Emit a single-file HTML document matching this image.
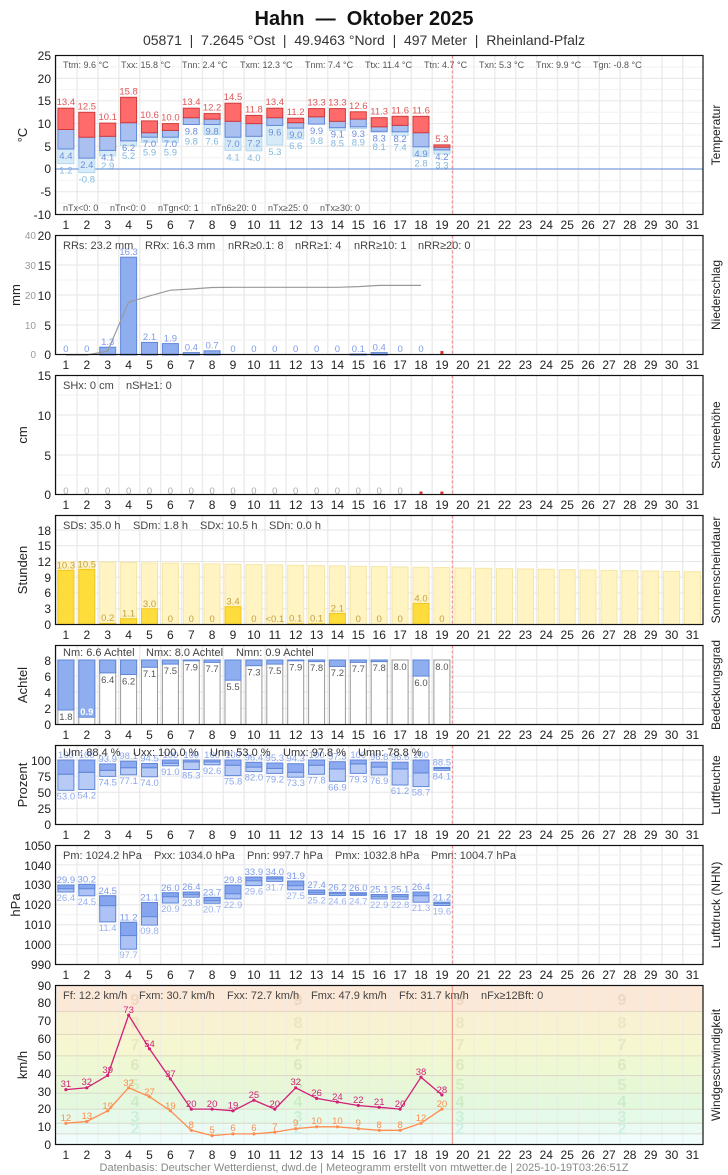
<!DOCTYPE html>
<html><head><meta charset="utf-8"><style>
html,body{margin:0;padding:0;background:#fff}
svg{display:block;font-family:"Liberation Sans",sans-serif}
.t{font-size:12px;fill:#222}
.yl{font-size:12px;fill:#222;text-anchor:end}
.s9{font-size:9px;fill:#555}
.s11{font-size:11px;fill:#444}
.ax{font-size:13px;fill:#222;text-anchor:middle}
.dl{font-size:12px;fill:#222;text-anchor:middle}
.bl{font-size:9.5px;text-anchor:middle}
</style></head><body>
<svg width="728" height="1175" viewBox="0 0 728 1175">
<defs>
<pattern id="vg" x="55.5" y="0" width="20.887" height="10" patternUnits="userSpaceOnUse"><rect x="-1" y="0" width="2.4" height="10" fill="#ebebeb"/></pattern>
</defs>
<text x="364" y="25" text-anchor="middle" style="font-size:20px;font-weight:bold;fill:#111">Hahn&#160;&#160;—&#160;&#160;Oktober 2025</text>
<text x="364" y="45" text-anchor="middle" style="font-size:14px;fill:#333">05871&#160;&#160;|&#160;&#160;7.2645 °Ost&#160;&#160;|&#160;&#160;49.9463 °Nord&#160;&#160;|&#160;&#160;497 Meter&#160;&#160;|&#160;&#160;Rheinland-Pfalz</text>

<g>
<rect x="55.5" y="55.5" width="647.5" height="159" fill="url(#vg)"/>
<rect x="55.5" y="235.5" width="647.5" height="119" fill="url(#vg)"/>
<rect x="55.5" y="375.5" width="647.5" height="119" fill="url(#vg)"/>
<rect x="55.5" y="515.5" width="647.5" height="109" fill="url(#vg)"/>
<rect x="55.5" y="645.5" width="647.5" height="79" fill="url(#vg)"/>
<rect x="55.5" y="745.5" width="647.5" height="79" fill="url(#vg)"/>
<rect x="55.5" y="845.5" width="647.5" height="119" fill="url(#vg)"/>
</g>
<g>
<rect x="55.5" y="985" width="647.5" height="26.6" fill="#fbe8d6"/>
<rect x="55.5" y="1011.6" width="647.5" height="23" fill="#f8f2d2"/>
<rect x="55.5" y="1034.6" width="647.5" height="21.3" fill="#f6f7d0"/>
<rect x="55.5" y="1055.9" width="647.5" height="19.5" fill="#eef8d2"/>
<rect x="55.5" y="1075.4" width="647.5" height="17.7" fill="#e8f8d6"/>
<rect x="55.5" y="1093.1" width="647.5" height="16" fill="#e4f8de"/>
<rect x="55.5" y="1109.1" width="647.5" height="14.1" fill="#e6faea"/>
<rect x="55.5" y="1123.2" width="647.5" height="10.7" fill="#eafbf4"/>
<rect x="55.5" y="1133.9" width="647.5" height="10.6" fill="#f0fdfc"/>
<rect x="55.5" y="985" width="647.5" height="160" fill="url(#vg)" opacity="0.6"/>
<g stroke="#d8d0c0" stroke-width="0.8">
<line x1="55.5" x2="703" y1="1011.6" y2="1011.6"/><line x1="55.5" x2="703" y1="1034.6" y2="1034.6"/><line x1="55.5" x2="703" y1="1055.9" y2="1055.9"/><line x1="55.5" x2="703" y1="1075.4" y2="1075.4"/><line x1="55.5" x2="703" y1="1093.1" y2="1093.1"/><line x1="55.5" x2="703" y1="1109.1" y2="1109.1"/><line x1="55.5" x2="703" y1="1123.2" y2="1123.2"/><line x1="55.5" x2="703" y1="1133.9" y2="1133.9"/>
</g>
<g style="font-size:16px;font-weight:bold" text-anchor="middle">
<g fill="#efd8c0"><text x="135" y="1005">9</text><text x="298" y="1005">9</text><text x="460" y="1005">9</text><text x="622" y="1005">9</text></g>
<g fill="#ece6c0"><text x="135" y="1028">8</text><text x="298" y="1028">8</text><text x="460" y="1028">8</text><text x="622" y="1028">8</text></g>
<g fill="#e6e8c0"><text x="135" y="1050">7</text><text x="298" y="1050">7</text><text x="460" y="1050">7</text><text x="622" y="1050">7</text></g>
<g fill="#dde8c0"><text x="135" y="1070">6</text><text x="298" y="1070">6</text><text x="460" y="1070">6</text><text x="622" y="1070">6</text></g>
<g fill="#d4ecc4"><text x="135" y="1090">5</text><text x="298" y="1090">5</text><text x="460" y="1090">5</text><text x="622" y="1090">5</text></g>
<g fill="#ccecc8"><text x="135" y="1107">4</text><text x="298" y="1107">4</text><text x="460" y="1107">4</text><text x="622" y="1107">4</text></g>
<g fill="#ccefd8"><text x="135" y="1122">3</text><text x="298" y="1122">3</text><text x="460" y="1122">3</text><text x="622" y="1122">3</text></g>
<g fill="#cef0e4"><text x="135" y="1134">2</text><text x="298" y="1134">2</text><text x="460" y="1134">2</text><text x="622" y="1134">2</text></g>
</g>
</g>

<g stroke="#e6e6e6" stroke-width="1">
<line x1="55.5" x2="703" y1="78.2" y2="78.2"/><line x1="55.5" x2="703" y1="100.9" y2="100.9"/><line x1="55.5" x2="703" y1="123.6" y2="123.6"/><line x1="55.5" x2="703" y1="146.3" y2="146.3"/><line x1="55.5" x2="703" y1="191.7" y2="191.7"/>
<line x1="55.5" x2="703" y1="265" y2="265"/><line x1="55.5" x2="703" y1="295" y2="295"/><line x1="55.5" x2="703" y1="325" y2="325"/>
<line x1="55.5" x2="703" y1="415" y2="415"/><line x1="55.5" x2="703" y1="455" y2="455"/>
<line x1="55.5" x2="703" y1="530" y2="530"/><line x1="55.5" x2="703" y1="545.8" y2="545.8"/><line x1="55.5" x2="703" y1="561.5" y2="561.5"/><line x1="55.5" x2="703" y1="577.3" y2="577.3"/><line x1="55.5" x2="703" y1="593" y2="593"/><line x1="55.5" x2="703" y1="608.8" y2="608.8"/>
<line x1="55.5" x2="703" y1="660" y2="660"/><line x1="55.5" x2="703" y1="676.1" y2="676.1"/><line x1="55.5" x2="703" y1="692.3" y2="692.3"/><line x1="55.5" x2="703" y1="708.4" y2="708.4"/>
<line x1="55.5" x2="703" y1="760" y2="760"/><line x1="55.5" x2="703" y1="776.1" y2="776.1"/><line x1="55.5" x2="703" y1="792.3" y2="792.3"/><line x1="55.5" x2="703" y1="808.4" y2="808.4"/>
<line x1="55.5" x2="703" y1="864.9" y2="864.9"/><line x1="55.5" x2="703" y1="884.8" y2="884.8"/><line x1="55.5" x2="703" y1="904.7" y2="904.7"/><line x1="55.5" x2="703" y1="924.7" y2="924.7"/><line x1="55.5" x2="703" y1="944.6" y2="944.6"/>
</g>
<g stroke="#f2f2f2" stroke-width="1">
<line x1="55.5" x2="703" y1="66.9" y2="66.9"/><line x1="55.5" x2="703" y1="89.6" y2="89.6"/><line x1="55.5" x2="703" y1="112.3" y2="112.3"/><line x1="55.5" x2="703" y1="135" y2="135"/><line x1="55.5" x2="703" y1="157.7" y2="157.7"/><line x1="55.5" x2="703" y1="180.4" y2="180.4"/><line x1="55.5" x2="703" y1="203" y2="203"/>
<line x1="55.5" x2="703" y1="250" y2="250"/><line x1="55.5" x2="703" y1="280" y2="280"/><line x1="55.5" x2="703" y1="310" y2="310"/><line x1="55.5" x2="703" y1="340" y2="340"/>
<line x1="55.5" x2="703" y1="395" y2="395"/><line x1="55.5" x2="703" y1="435" y2="435"/><line x1="55.5" x2="703" y1="475" y2="475"/>
<line x1="55.5" x2="703" y1="855" y2="855"/><line x1="55.5" x2="703" y1="874.9" y2="874.9"/><line x1="55.5" x2="703" y1="894.8" y2="894.8"/><line x1="55.5" x2="703" y1="914.7" y2="914.7"/><line x1="55.5" x2="703" y1="934.7" y2="934.7"/><line x1="55.5" x2="703" y1="954.6" y2="954.6"/>
</g>

<line x1="55.5" x2="703" y1="169" y2="169" stroke="#5b86d6" stroke-width="1"/>
<g stroke-width="1">
<g fill="#d6ebf7" stroke="#b4d8ee">
<rect x="57.9" y="149" width="16" height="14.6"/><rect x="78.8" y="158.1" width="16" height="14.5"/><rect x="99.7" y="150.4" width="16" height="5.4"/><rect x="120.6" y="140.9" width="16" height="4.5"/><rect x="141.5" y="137.2" width="16" height="5"/><rect x="162.4" y="137.2" width="16" height="5"/><rect x="204.1" y="124.5" width="16" height="10"/><rect x="225" y="137.2" width="16" height="13.2"/><rect x="245.9" y="136.3" width="16" height="14.5"/><rect x="266.8" y="125.4" width="16" height="19.5"/><rect x="287.7" y="128.1" width="16" height="10.9"/><rect x="329.4" y="127.7" width="16" height="2.7"/><rect x="350.3" y="126.8" width="16" height="1.8"/><rect x="371.2" y="131.3" width="16" height="0.9"/><rect x="392.1" y="131.8" width="16" height="3.6"/><rect x="413" y="146.8" width="16" height="9.5"/><rect x="433.9" y="149.9" width="16" height="4.1"/>
</g>
<g fill="#a9c0f1" stroke="#5f86d8">
<rect x="57.9" y="129.5" width="16" height="19.5"/><rect x="78.8" y="137.2" width="16" height="20.9"/><rect x="99.7" y="136.3" width="16" height="14.1"/><rect x="120.6" y="122.7" width="16" height="18.2"/><rect x="141.5" y="132.7" width="16" height="4.5"/><rect x="162.4" y="130.4" width="16" height="6.8"/><rect x="183.3" y="117.7" width="16" height="6.8"/><rect x="204.1" y="119.1" width="16" height="5.4"/><rect x="225" y="121.3" width="16" height="15.9"/><rect x="245.9" y="123.6" width="16" height="12.7"/><rect x="266.8" y="117.7" width="16" height="7.7"/><rect x="287.7" y="122.7" width="16" height="5.4"/><rect x="308.6" y="116.8" width="16" height="7.3"/><rect x="329.4" y="121.3" width="16" height="6.4"/><rect x="350.3" y="119.1" width="16" height="7.7"/><rect x="371.2" y="126.8" width="16" height="4.5"/><rect x="392.1" y="125.4" width="16" height="6.4"/><rect x="413" y="132.7" width="16" height="14.1"/><rect x="433.9" y="147.2" width="16" height="2.7"/>
</g>
<g fill="#ff6b6b" stroke="#d03a3a">
<rect x="57.9" y="108.2" width="16" height="21.3"/><rect x="78.8" y="112.3" width="16" height="24.9"/><rect x="99.7" y="123.1" width="16" height="13.2"/><rect x="120.6" y="97.3" width="16" height="25.4"/><rect x="141.5" y="120.9" width="16" height="11.8"/><rect x="162.4" y="123.6" width="16" height="6.8"/><rect x="183.3" y="108.2" width="16" height="9.5"/><rect x="204.1" y="113.6" width="16" height="5.5"/><rect x="225" y="103.2" width="16" height="18.1"/><rect x="245.9" y="115.4" width="16" height="8.2"/><rect x="266.8" y="108.2" width="16" height="9.5"/><rect x="287.7" y="118.2" width="16" height="4.5"/><rect x="308.6" y="108.6" width="16" height="8.2"/><rect x="329.4" y="108.6" width="16" height="12.7"/><rect x="350.3" y="111.8" width="16" height="7.3"/><rect x="371.2" y="117.7" width="16" height="9.1"/><rect x="392.1" y="116.3" width="16" height="9.1"/><rect x="413" y="116.3" width="16" height="16.4"/><rect x="433.9" y="144.9" width="16" height="2.3"/>
</g>
</g>
<g class="bl" fill="#e05555">
<text x="65.9" y="105.2">13.4</text><text x="86.8" y="109.3">12.5</text><text x="107.7" y="120.1">10.1</text><text x="128.6" y="94.3">15.8</text><text x="149.5" y="117.9">10.6</text><text x="170.4" y="120.6">10.0</text><text x="191.3" y="105.2">13.4</text><text x="212.1" y="110.6">12.2</text><text x="233" y="100.2">14.5</text><text x="253.9" y="112.4">11.8</text><text x="274.8" y="105.2">13.4</text><text x="295.7" y="115.2">11.2</text><text x="316.6" y="105.6">13.3</text><text x="337.4" y="105.6">13.3</text><text x="358.3" y="108.8">12.6</text><text x="379.2" y="114.7">11.3</text><text x="400.1" y="113.3">11.6</text><text x="421" y="113.3">11.6</text><text x="441.9" y="141.9">5.3</text>
</g>
<g class="bl" fill="#6b8ddb">
<text x="65.9" y="159">4.4</text><text x="86.8" y="168">2.4</text><text x="107.7" y="160.4">4.1</text><text x="128.6" y="150.9">6.2</text><text x="149.5" y="147.2">7.0</text><text x="170.4" y="147.2">7.0</text><text x="191.3" y="134.5">9.8</text><text x="212.1" y="134.5">9.8</text><text x="233" y="147.2">7.0</text><text x="253.9" y="146.3">7.2</text><text x="274.8" y="135.4">9.6</text><text x="295.7" y="138.1">9.0</text><text x="316.6" y="134.1">9.9</text><text x="337.4" y="137.7">9.1</text><text x="358.3" y="136.8">9.3</text><text x="379.2" y="141.3">8.3</text><text x="400.1" y="141.8">8.2</text><text x="421" y="156.8">4.9</text><text x="441.9" y="159.9">4.2</text>
</g>
<g class="bl" fill="#82b8dc">
<text x="65.9" y="173.6">1.2</text><text x="86.8" y="182.6">-0.8</text><text x="107.7" y="169">2.9</text><text x="128.6" y="159">5.2</text><text x="149.5" y="155.5">5.9</text><text x="170.4" y="155.5">5.9</text><text x="191.3" y="144.5">9.8</text><text x="212.1" y="144.5">7.6</text><text x="233" y="160.4">4.1</text><text x="253.9" y="160.8">4.0</text><text x="274.8" y="154.9">5.3</text><text x="295.7" y="149">6.6</text><text x="316.6" y="144">9.8</text><text x="337.4" y="146.5">8.5</text><text x="358.3" y="145.5">8.9</text><text x="379.2" y="150">8.1</text><text x="400.1" y="150.5">7.4</text><text x="421" y="166.3">2.8</text><text x="441.9" y="168.5">3.3</text>
</g>
<g class="s9">
<text x="63" y="68">Ttm: 9.6 °C</text><text x="121" y="68">Txx: 15.8 °C</text><text x="182" y="68">Tnn: 2.4 °C</text><text x="240" y="68">Txm: 12.3 °C</text><text x="305" y="68">Tnm: 7.4 °C</text><text x="365" y="68">Ttx: 11.4 °C</text><text x="424" y="68">Ttn: 4.7 °C</text><text x="479" y="68">Txn: 5.3 °C</text><text x="536" y="68">Tnx: 9.9 °C</text><text x="593" y="68">Tgn: -0.8 °C</text>
<text x="63" y="211">nTx&lt;0: 0</text><text x="110" y="211">nTn&lt;0: 0</text><text x="158" y="211">nTgn&lt;0: 1</text><text x="211" y="211">nTn6≥20: 0</text><text x="268" y="211">nTx≥25: 0</text><text x="320" y="211">nTx≥30: 0</text>
</g>

<g fill="#8eaef0" stroke="#5f86d8">
<rect x="99.7" y="347.2" width="16" height="7.8"/><rect x="120.6" y="257.2" width="16" height="97.8"/><rect x="141.5" y="342.4" width="16" height="12.6"/><rect x="162.4" y="343.6" width="16" height="11.4"/><rect x="183.3" y="352.6" width="16" height="2.4"/><rect x="204.1" y="350.8" width="16" height="4.2"/><rect x="350.3" y="354" width="16" height="1"/><rect x="371.2" y="352.6" width="16" height="2.4"/>
</g>
<polyline fill="none" stroke="#999" stroke-width="1.2" points="65.9,355 86.8,355 107.7,351.1 128.6,302.2 149.5,295.9 170.4,290.2 191.3,289 212.1,287.5 233,287.3 253.9,287.3 274.8,287.3 295.7,287.3 316.6,287.3 337.4,287.3 358.3,286.6 379.2,285.4 400.1,285.4 421,285.4"/>
<g class="bl" fill="#7d9be8">
<text x="65.9" y="352">0</text><text x="86.8" y="352">0</text><text x="107.7" y="345">1.3</text><text x="128.6" y="255">16.3</text><text x="149.5" y="340">2.1</text><text x="170.4" y="341.5">1.9</text><text x="191.3" y="350.5">0.4</text><text x="212.1" y="348.5">0.7</text><text x="233" y="352">0</text><text x="253.9" y="352">0</text><text x="274.8" y="352">0</text><text x="295.7" y="352">0</text><text x="316.6" y="352">0</text><text x="337.4" y="352">0</text><text x="358.3" y="352">0.1</text><text x="379.2" y="350.5">0.4</text><text x="400.1" y="352">0</text><text x="421" y="352">0</text>
</g>
<rect x="440.4" y="351" width="3" height="3" fill="#e03030"/>
<g class="s11">
<text x="63" y="249">RRs: 23.2 mm</text><text x="145" y="249">RRx: 16.3 mm</text><text x="228" y="249">nRR≥0.1: 8</text><text x="295" y="249">nRR≥1: 4</text><text x="354" y="249">nRR≥10: 1</text><text x="418" y="249">nRR≥20: 0</text>
</g>

<g class="bl" fill="#aaa">
<text x="65.9" y="494">0</text><text x="86.8" y="494">0</text><text x="107.7" y="494">0</text><text x="128.6" y="494">0</text><text x="149.5" y="494">0</text><text x="170.4" y="494">0</text><text x="191.3" y="494">0</text><text x="212.1" y="494">0</text><text x="233" y="494">0</text><text x="253.9" y="494">0</text><text x="274.8" y="494">0</text><text x="295.7" y="494">0</text><text x="316.6" y="494">0</text><text x="337.4" y="494">0</text><text x="358.3" y="494">0</text><text x="379.2" y="494">0</text><text x="400.1" y="494">0</text>
</g>
<rect x="419.5" y="491.5" width="3" height="3" fill="#e03030"/><rect x="440.4" y="491.5" width="3" height="3" fill="#e03030"/>
<g class="s11"><text x="63" y="389">SHx: 0 cm</text><text x="126" y="389">nSH≥1: 0</text></g>

<g fill="#fff4c2" stroke="#f6e6a6">
<rect x="57.9" y="561.5" width="16" height="63"/><rect x="78.8" y="561.8" width="16" height="62.7"/><rect x="99.7" y="562.2" width="16" height="62.3"/><rect x="120.6" y="562.5" width="16" height="62"/><rect x="141.5" y="562.9" width="16" height="61.6"/><rect x="162.4" y="563.2" width="16" height="61.3"/><rect x="183.3" y="563.6" width="16" height="60.9"/><rect x="204.1" y="563.9" width="16" height="60.6"/><rect x="225" y="564.2" width="16" height="60.3"/><rect x="245.9" y="564.6" width="16" height="59.9"/><rect x="266.8" y="564.9" width="16" height="59.6"/><rect x="287.7" y="565.3" width="16" height="59.2"/><rect x="308.6" y="565.6" width="16" height="58.9"/><rect x="329.4" y="565.9" width="16" height="58.6"/><rect x="350.3" y="566.3" width="16" height="58.2"/><rect x="371.2" y="566.6" width="16" height="57.9"/><rect x="392.1" y="567" width="16" height="57.5"/><rect x="413" y="567.3" width="16" height="57.2"/><rect x="433.9" y="567.6" width="16" height="56.9"/><rect x="454.8" y="568" width="16" height="56.5"/><rect x="475.6" y="568.3" width="16" height="56.2"/><rect x="496.5" y="568.7" width="16" height="55.8"/><rect x="517.4" y="569" width="16" height="55.5"/><rect x="538.3" y="569.3" width="16" height="55.2"/><rect x="559.2" y="569.7" width="16" height="54.8"/><rect x="580.1" y="570" width="16" height="54.5"/><rect x="601" y="570.4" width="16" height="54.1"/><rect x="621.8" y="570.7" width="16" height="53.8"/><rect x="642.7" y="571" width="16" height="53.5"/><rect x="663.6" y="571.4" width="16" height="53.1"/><rect x="684.5" y="571.7" width="16" height="52.8"/>
</g>
<g fill="#fddc3c" stroke="#f0c820">
<rect x="57.9" y="570.4" width="16" height="54.1"/><rect x="78.8" y="569.4" width="16" height="55.1"/><rect x="99.7" y="623.4" width="16" height="1.1"/><rect x="120.6" y="618.7" width="16" height="5.8"/><rect x="141.5" y="608.8" width="16" height="15.7"/><rect x="225" y="606.7" width="16" height="17.8"/><rect x="287.7" y="623.8" width="16" height="0.7"/><rect x="308.6" y="623.8" width="16" height="0.7"/><rect x="329.4" y="613.5" width="16" height="11"/><rect x="413" y="603.5" width="16" height="21"/>
</g>
<g class="bl" fill="#c4a040">
<text x="65.9" y="568.4">10.3</text><text x="86.8" y="567.4">10.5</text><text x="107.7" y="621">0.2</text><text x="128.6" y="616.7">1.1</text><text x="149.5" y="606.8">3.0</text><text x="170.4" y="622">0</text><text x="191.3" y="622">0</text><text x="212.1" y="622">0</text><text x="233" y="604.7">3.4</text><text x="253.9" y="622">0</text><text x="274.8" y="622">&lt;0.1</text><text x="295.7" y="621.5">0.1</text><text x="316.6" y="621.5">0.1</text><text x="337.4" y="611.5">2.1</text><text x="358.3" y="622">0</text><text x="379.2" y="622">0</text><text x="400.1" y="622">0</text><text x="421" y="601.5">4.0</text><text x="441.9" y="622">0</text>
</g>
<g class="s11"><text x="63" y="529">SDs: 35.0 h</text><text x="133" y="529">SDm: 1.8 h</text><text x="200" y="529">SDx: 10.5 h</text><text x="269" y="529">SDn: 0.0 h</text></g>

<g fill="#fff" stroke="#999">
<rect x="57.9" y="660" width="16" height="64.5"/><rect x="78.8" y="660" width="16" height="64.5"/><rect x="99.7" y="660" width="16" height="64.5"/><rect x="120.6" y="660" width="16" height="64.5"/><rect x="141.5" y="660" width="16" height="64.5"/><rect x="162.4" y="660" width="16" height="64.5"/><rect x="183.3" y="660" width="16" height="64.5"/><rect x="204.1" y="660" width="16" height="64.5"/><rect x="225" y="660" width="16" height="64.5"/><rect x="245.9" y="660" width="16" height="64.5"/><rect x="266.8" y="660" width="16" height="64.5"/><rect x="287.7" y="660" width="16" height="64.5"/><rect x="308.6" y="660" width="16" height="64.5"/><rect x="329.4" y="660" width="16" height="64.5"/><rect x="350.3" y="660" width="16" height="64.5"/><rect x="371.2" y="660" width="16" height="64.5"/><rect x="392.1" y="660" width="16" height="64.5"/><rect x="413" y="660" width="16" height="64.5"/><rect x="433.9" y="660" width="16" height="64.5"/>
</g>
<g fill="#8eaef0" stroke="#5f86d8">
<rect x="57.9" y="660" width="16" height="50"/><rect x="78.8" y="660" width="16" height="57.2"/><rect x="99.7" y="660" width="16" height="12.9"/><rect x="120.6" y="660" width="16" height="14.5"/><rect x="141.5" y="660" width="16" height="7.3"/><rect x="162.4" y="660" width="16" height="4.1"/><rect x="183.3" y="660" width="16" height="0.8"/><rect x="204.1" y="660" width="16" height="2.4"/><rect x="225" y="660" width="16" height="20.2"/><rect x="245.9" y="660" width="16" height="5.7"/><rect x="266.8" y="660" width="16" height="4.1"/><rect x="287.7" y="660" width="16" height="0.8"/><rect x="308.6" y="660" width="16" height="1.6"/><rect x="329.4" y="660" width="16" height="6.5"/><rect x="350.3" y="660" width="16" height="2.4"/><rect x="371.2" y="660" width="16" height="1.6"/><rect x="413" y="660" width="16" height="16.1"/>
</g>
<g class="bl" fill="#555">
<text x="65.9" y="720">1.8</text><text x="107.7" y="683">6.4</text><text x="128.6" y="684.5">6.2</text><text x="149.5" y="677">7.1</text><text x="170.4" y="674">7.5</text><text x="191.3" y="670.5">7.9</text><text x="212.1" y="672">7.7</text><text x="233" y="690">5.5</text><text x="253.9" y="675.5">7.3</text><text x="274.8" y="674">7.5</text><text x="295.7" y="670.5">7.9</text><text x="316.6" y="671">7.8</text><text x="337.4" y="676">7.2</text><text x="358.3" y="672">7.7</text><text x="379.2" y="671">7.8</text><text x="400.1" y="670">8.0</text><text x="421" y="686">6.0</text><text x="441.9" y="670">8.0</text>
</g>
<text x="86.8" y="715" class="bl" fill="#fff" style="font-weight:bold">0.9</text>
<g class="s11"><text x="63" y="656">Nm: 6.6 Achtel</text><text x="146" y="656">Nmx: 8.0 Achtel</text><text x="236" y="656">Nmn: 0.9 Achtel</text></g>

<g stroke="#5f86d8" stroke-width="1">
<g fill="#b8cbf6">
<rect x="57.9" y="774.2" width="16" height="16.1"/><rect x="78.8" y="772.3" width="16" height="17.2"/><rect x="99.7" y="770.3" width="16" height="6.1"/><rect x="120.6" y="767.7" width="16" height="7.1"/><rect x="141.5" y="767.7" width="16" height="9.1"/><rect x="162.4" y="763.2" width="16" height="2.6"/><rect x="183.3" y="761.9" width="16" height="7.6"/><rect x="204.1" y="761.9" width="16" height="2.9"/><rect x="225" y="765.2" width="16" height="10.4"/><rect x="245.9" y="767.1" width="16" height="4.5"/><rect x="266.8" y="768.4" width="16" height="5"/><rect x="287.7" y="772.3" width="16" height="4.9"/><rect x="308.6" y="765.2" width="16" height="9.1"/><rect x="329.4" y="769" width="16" height="12.3"/><rect x="350.3" y="763.9" width="16" height="9.5"/><rect x="371.2" y="767.1" width="16" height="7.8"/><rect x="392.1" y="769" width="16" height="16"/><rect x="413" y="772.9" width="16" height="13.7"/><rect x="433.9" y="768.4" width="16" height="1.9"/>
</g>
<g fill="#8eaaf0">
<rect x="57.9" y="760" width="16" height="14.2"/><rect x="78.8" y="760" width="16" height="12.3"/><rect x="99.7" y="763.9" width="16" height="6.4"/><rect x="120.6" y="761.2" width="16" height="6.5"/><rect x="141.5" y="763.5" width="16" height="4.2"/><rect x="162.4" y="760" width="16" height="3.2"/><rect x="183.3" y="760" width="16" height="1.9"/><rect x="204.1" y="760" width="16" height="1.9"/><rect x="225" y="760" width="16" height="5.2"/><rect x="245.9" y="762.3" width="16" height="4.8"/><rect x="266.8" y="763" width="16" height="5.4"/><rect x="287.7" y="763.7" width="16" height="8.6"/><rect x="308.6" y="760" width="16" height="5.2"/><rect x="329.4" y="761.7" width="16" height="7.3"/><rect x="350.3" y="760" width="16" height="3.9"/><rect x="371.2" y="762.1" width="16" height="5"/><rect x="392.1" y="762.2" width="16" height="6.8"/><rect x="413" y="760" width="16" height="12.9"/><rect x="433.9" y="767.4" width="16" height="1"/>
</g>
</g>
<g class="bl" fill="#8aa6ec">
<text x="65.9" y="758">100</text><text x="86.8" y="758">100</text><text x="107.7" y="762">93.9</text><text x="128.6" y="759">98.1</text><text x="149.5" y="761.5">94.5</text><text x="170.4" y="758">100</text><text x="191.3" y="758">100</text><text x="212.1" y="758">100</text><text x="233" y="758">100</text><text x="253.9" y="760.3">96.4</text><text x="274.8" y="761">95.3</text><text x="295.7" y="761.7">94.3</text><text x="316.6" y="758">100</text><text x="337.4" y="759.7">97.3</text><text x="358.3" y="758">100</text><text x="379.2" y="760">96.8</text><text x="400.1" y="760">96.6</text><text x="421" y="758">100</text><text x="441.9" y="765.4">88.5</text>
<text x="65.9" y="799.3">53.0</text><text x="86.8" y="798.5">54.2</text><text x="107.7" y="785.4">74.5</text><text x="128.6" y="783.8">77.1</text><text x="149.5" y="785.8">74.0</text><text x="170.4" y="774.8">91.0</text><text x="191.3" y="778.5">85.3</text><text x="212.1" y="773.8">92.6</text><text x="233" y="784.6">75.8</text><text x="253.9" y="780.6">82.0</text><text x="274.8" y="782.4">79.2</text><text x="295.7" y="786.2">73.3</text><text x="316.6" y="783.3">77.8</text><text x="337.4" y="790.3">66.9</text><text x="358.3" y="782.4">79.3</text><text x="379.2" y="783.9">76.9</text><text x="400.1" y="794">61.2</text><text x="421" y="795.6">58.7</text><text x="441.9" y="779.3">84.1</text>
</g>
<g class="s11" style="fill:#333"><text x="63" y="756">Um: 88.4 %</text><text x="133" y="756">Uxx: 100.0 %</text><text x="210" y="756">Unn: 53.0 %</text><text x="283" y="756">Umx: 97.8 %</text><text x="358" y="756">Umn: 78.8 %</text></g>

<g stroke="#5f86d8">
<g fill="#aec3f5">
<rect x="57.9" y="885" width="16" height="7"/><rect x="78.8" y="884.4" width="16" height="11.4"/><rect x="99.7" y="895.8" width="16" height="26.1"/><rect x="120.6" y="922.3" width="16" height="26.9"/><rect x="141.5" y="902.5" width="16" height="22.6"/><rect x="162.4" y="892.8" width="16" height="10.2"/><rect x="183.3" y="892" width="16" height="5.2"/><rect x="204.1" y="897.4" width="16" height="5.9"/><rect x="225" y="885.2" width="16" height="13.7"/><rect x="245.9" y="877.1" width="16" height="8.5"/><rect x="266.8" y="876.9" width="16" height="4.5"/><rect x="287.7" y="881" width="16" height="8.8"/><rect x="308.6" y="890" width="16" height="4.4"/><rect x="329.4" y="892.4" width="16" height="3.2"/><rect x="350.3" y="892.8" width="16" height="2.6"/><rect x="371.2" y="894.6" width="16" height="4.4"/><rect x="392.1" y="894.6" width="16" height="4.6"/><rect x="413" y="892" width="16" height="10.2"/><rect x="433.9" y="902.3" width="16" height="3.2"/>
</g>
<g fill="#86a5ef">
<rect x="57.9" y="885" width="16" height="3.8"/><rect x="78.8" y="884.4" width="16" height="4.4"/><rect x="99.7" y="895.8" width="16" height="9.9"/><rect x="120.6" y="922.3" width="16" height="13.3"/><rect x="141.5" y="902.5" width="16" height="14.2"/><rect x="162.4" y="892.8" width="16" height="4"/><rect x="183.3" y="892" width="16" height="2.8"/><rect x="204.1" y="897.4" width="16" height="3.4"/><rect x="225" y="885.2" width="16" height="8.6"/><rect x="245.9" y="877.1" width="16" height="3.7"/><rect x="266.8" y="876.9" width="16" height="2"/><rect x="287.7" y="881" width="16" height="4.8"/><rect x="308.6" y="890" width="16" height="2.8"/><rect x="329.4" y="892.4" width="16" height="1.4"/><rect x="350.3" y="892.8" width="16" height="1.4"/><rect x="371.2" y="894.6" width="16" height="2.2"/><rect x="392.1" y="894.6" width="16" height="2.2"/><rect x="413" y="892" width="16" height="3.8"/><rect x="433.9" y="902.3" width="16" height="1.4"/>
</g>
</g>
<g class="bl" fill="#7d9be8">
<text x="65.9" y="883">29.9</text><text x="86.8" y="882.4">30.2</text><text x="107.7" y="893.8">24.5</text><text x="128.6" y="920.3">11.2</text><text x="149.5" y="900.5">21.1</text><text x="170.4" y="890.8">26.0</text><text x="191.3" y="890">26.4</text><text x="212.1" y="895.4">23.7</text><text x="233" y="883.2">29.8</text><text x="253.9" y="875.1">33.9</text><text x="274.8" y="874.9">34.0</text><text x="295.7" y="879">31.9</text><text x="316.6" y="888">27.4</text><text x="337.4" y="890.4">26.2</text><text x="358.3" y="890.8">26.0</text><text x="379.2" y="892.6">25.1</text><text x="400.1" y="892.6">25.1</text><text x="421" y="890">26.4</text><text x="441.9" y="900.3">21.2</text>
</g>
<g class="bl" fill="#9ab2ec">
<text x="65.9" y="901">26.4</text><text x="86.8" y="904.8">24.5</text><text x="107.7" y="930.9">11.4</text><text x="128.6" y="958.2">97.7</text><text x="149.5" y="934.1">09.8</text><text x="170.4" y="912">20.9</text><text x="191.3" y="906.2">23.8</text><text x="212.1" y="912.3">20.7</text><text x="233" y="907.9">22.9</text><text x="253.9" y="894.6">29.6</text><text x="274.8" y="890.4">31.7</text><text x="295.7" y="898.8">27.5</text><text x="316.6" y="903.4">25.2</text><text x="337.4" y="904.6">24.6</text><text x="358.3" y="904.4">24.7</text><text x="379.2" y="908">22.9</text><text x="400.1" y="908.2">22.8</text><text x="421" y="911.2">21.3</text><text x="441.9" y="914.5">19.6</text>
</g>
<g class="s11"><text x="63" y="859">Pm: 1024.2 hPa</text><text x="154" y="859">Pxx: 1034.0 hPa</text><text x="247" y="859">Pnn: 997.7 hPa</text><text x="335" y="859">Pmx: 1032.8 hPa</text><text x="431" y="859">Pmn: 1004.7 hPa</text></g>

<polyline fill="none" stroke="#d21f79" stroke-width="1.3" points="65.9,1089.6 86.8,1087.8 107.7,1075.4 128.6,1015.1 149.5,1048.8 170.4,1078.9 191.3,1109.1 212.1,1109.1 233,1110.8 253.9,1100.2 274.8,1109.1 295.7,1087.8 316.6,1098.4 337.4,1102 358.3,1105.5 379.2,1107.3 400.1,1109.1 421,1077.2 441.9,1094.9"/>
<polyline fill="none" stroke="#ff8c50" stroke-width="1.3" points="65.9,1123.2 86.8,1121.5 107.7,1110.8 128.6,1087.8 149.5,1096.7 170.4,1110.8 191.3,1130.3 212.1,1135.6 233,1133.9 253.9,1133.9 274.8,1132.1 295.7,1128.6 316.6,1126.8 337.4,1126.8 358.3,1128.6 379.2,1130.3 400.1,1130.3 421,1123.2 441.9,1109.1"/>
<g fill="#d21f79">
<circle cx="65.9" cy="1089.6" r="1.6"/><circle cx="86.8" cy="1087.8" r="1.6"/><circle cx="107.7" cy="1075.4" r="1.6"/><circle cx="128.6" cy="1015.1" r="1.6"/><circle cx="149.5" cy="1048.8" r="1.6"/><circle cx="170.4" cy="1078.9" r="1.6"/><circle cx="191.3" cy="1109.1" r="1.6"/><circle cx="212.1" cy="1109.1" r="1.6"/><circle cx="233" cy="1110.8" r="1.6"/><circle cx="253.9" cy="1100.2" r="1.6"/><circle cx="274.8" cy="1109.1" r="1.6"/><circle cx="295.7" cy="1087.8" r="1.6"/><circle cx="316.6" cy="1098.4" r="1.6"/><circle cx="337.4" cy="1102" r="1.6"/><circle cx="358.3" cy="1105.5" r="1.6"/><circle cx="379.2" cy="1107.3" r="1.6"/><circle cx="400.1" cy="1109.1" r="1.6"/><circle cx="421" cy="1077.2" r="1.6"/><circle cx="441.9" cy="1094.9" r="1.6"/>
</g>
<g fill="#ff8c50">
<circle cx="65.9" cy="1123.2" r="1.6"/><circle cx="86.8" cy="1121.5" r="1.6"/><circle cx="107.7" cy="1110.8" r="1.6"/><circle cx="128.6" cy="1087.8" r="1.6"/><circle cx="149.5" cy="1096.7" r="1.6"/><circle cx="170.4" cy="1110.8" r="1.6"/><circle cx="191.3" cy="1130.3" r="1.6"/><circle cx="212.1" cy="1135.6" r="1.6"/><circle cx="233" cy="1133.9" r="1.6"/><circle cx="253.9" cy="1133.9" r="1.6"/><circle cx="274.8" cy="1132.1" r="1.6"/><circle cx="295.7" cy="1128.6" r="1.6"/><circle cx="316.6" cy="1126.8" r="1.6"/><circle cx="337.4" cy="1126.8" r="1.6"/><circle cx="358.3" cy="1128.6" r="1.6"/><circle cx="379.2" cy="1130.3" r="1.6"/><circle cx="400.1" cy="1130.3" r="1.6"/><circle cx="421" cy="1123.2" r="1.6"/><circle cx="441.9" cy="1109.1" r="1.6"/>
</g>
<g class="bl" fill="#d21f79">
<text x="65.9" y="1087">31</text><text x="86.8" y="1085">32</text><text x="107.7" y="1073">39</text><text x="128.6" y="1013">73</text><text x="149.5" y="1047">54</text><text x="170.4" y="1077">37</text><text x="191.3" y="1107">20</text><text x="212.1" y="1107">20</text><text x="233" y="1108.5">19</text><text x="253.9" y="1098">25</text><text x="274.8" y="1107">20</text><text x="295.7" y="1085">32</text><text x="316.6" y="1096">26</text><text x="337.4" y="1100">24</text><text x="358.3" y="1103">22</text><text x="379.2" y="1105">21</text><text x="400.1" y="1107">20</text><text x="421" y="1075">38</text><text x="441.9" y="1093">28</text>
</g>
<g class="bl" fill="#ff8c50">
<text x="65.9" y="1121">12</text><text x="86.8" y="1119">13</text><text x="107.7" y="1109">19</text><text x="128.6" y="1086">32</text><text x="149.5" y="1095">27</text><text x="170.4" y="1109">19</text><text x="191.3" y="1128">8</text><text x="212.1" y="1133">5</text><text x="233" y="1131">6</text><text x="253.9" y="1131">6</text><text x="274.8" y="1130">7</text><text x="295.7" y="1126">9</text><text x="316.6" y="1124">10</text><text x="337.4" y="1124">10</text><text x="358.3" y="1126">9</text><text x="379.2" y="1128">8</text><text x="400.1" y="1128">8</text><text x="421" y="1121">12</text><text x="441.9" y="1107">20</text>
</g>
<g class="s11"><text x="63" y="999">Ff: 12.2 km/h</text><text x="139" y="999">Fxm: 30.7 km/h</text><text x="227" y="999">Fxx: 72.7 km/h</text><text x="311" y="999">Fmx: 47.9 km/h</text><text x="399" y="999">Ffx: 31.7 km/h</text><text x="481" y="999">nFx≥12Bft: 0</text></g>

<g stroke="#f08080" stroke-width="1" stroke-dasharray="3,2">
<line x1="452.3" x2="452.3" y1="55.5" y2="214.5"/><line x1="452.3" x2="452.3" y1="235.5" y2="354.5"/><line x1="452.3" x2="452.3" y1="375.5" y2="494.5"/><line x1="452.3" x2="452.3" y1="515.5" y2="624.5"/><line x1="452.3" x2="452.3" y1="645.5" y2="724.5"/><line x1="452.3" x2="452.3" y1="745.5" y2="824.5"/><line x1="452.3" x2="452.3" y1="845.5" y2="964.5"/>
</g>
<line x1="452.3" x2="452.3" y1="985" y2="1144.5" stroke="#f09080" stroke-width="1"/>

<g fill="none" stroke="#111" stroke-width="1.2">
<rect x="55.5" y="55.5" width="647.5" height="159"/><rect x="55.5" y="235.5" width="647.5" height="119"/><rect x="55.5" y="375.5" width="647.5" height="119"/><rect x="55.5" y="515.5" width="647.5" height="109"/><rect x="55.5" y="645.5" width="647.5" height="79"/><rect x="55.5" y="745.5" width="647.5" height="79"/><rect x="55.5" y="845.5" width="647.5" height="119"/><rect x="55.5" y="985.5" width="647.5" height="159"/>
</g>

<g class="yl">
<text x="51" y="60">25</text><text x="51" y="83">20</text><text x="51" y="105">15</text><text x="51" y="128">10</text><text x="51" y="151">5</text><text x="51" y="173">0</text><text x="51" y="196">-5</text><text x="51" y="219">-10</text>
<text x="51" y="240">20</text><text x="51" y="270">15</text><text x="51" y="300">10</text><text x="51" y="330">5</text><text x="51" y="359">0</text>
<text x="51" y="380">15</text><text x="51" y="420">10</text><text x="51" y="460">5</text><text x="51" y="499">0</text>
<text x="51" y="535">18</text><text x="51" y="550">15</text><text x="51" y="566">12</text><text x="51" y="582">9</text><text x="51" y="597">6</text><text x="51" y="613">3</text><text x="51" y="629">0</text>
<text x="51" y="665">8</text><text x="51" y="681">6</text><text x="51" y="697">4</text><text x="51" y="713">2</text><text x="51" y="729">0</text>
<text x="51" y="765">100</text><text x="51" y="781">75</text><text x="51" y="797">50</text><text x="51" y="813">25</text><text x="51" y="829">0</text>
<text x="51" y="850">1050</text><text x="51" y="870">1040</text><text x="51" y="889">1030</text><text x="51" y="909">1020</text><text x="51" y="929">1010</text><text x="51" y="949">1000</text><text x="51" y="969">990</text>
<text x="51" y="990">90</text><text x="51" y="1007">80</text><text x="51" y="1025">70</text><text x="51" y="1043">60</text><text x="51" y="1060">50</text><text x="51" y="1078">40</text><text x="51" y="1096">30</text><text x="51" y="1113">20</text><text x="51" y="1131">10</text><text x="51" y="1149">0</text>
</g>
<g style="font-size:10px;fill:#999" text-anchor="end">
<text x="36" y="239">40</text><text x="36" y="269">30</text><text x="36" y="299">20</text><text x="36" y="329">10</text><text x="36" y="358">0</text>
</g>

<g class="ax">
<text transform="translate(27,135) rotate(-90)">°C</text>
<text transform="translate(20,295) rotate(-90)">mm</text>
<text transform="translate(27,435) rotate(-90)">cm</text>
<text transform="translate(27,570) rotate(-90)">Stunden</text>
<text transform="translate(27,685) rotate(-90)">Achtel</text>
<text transform="translate(27,785) rotate(-90)">Prozent</text>
<text transform="translate(20,905) rotate(-90)">hPa</text>
<text transform="translate(27,1065) rotate(-90)">km/h</text>
<text transform="translate(720,135) rotate(-90)" style="font-size:12px">Temperatur</text>
<text transform="translate(720,295) rotate(-90)" style="font-size:12px">Niederschlag</text>
<text transform="translate(720,435) rotate(-90)" style="font-size:12px">Schneehöhe</text>
<text transform="translate(720,570) rotate(-90)" style="font-size:12px">Sonnenscheindauer</text>
<text transform="translate(720,685) rotate(-90)" style="font-size:12px">Bedeckungsgrad</text>
<text transform="translate(720,785) rotate(-90)" style="font-size:12px">Luftfeuchte</text>
<text transform="translate(720,905) rotate(-90)" style="font-size:12px">Luftdruck (NHN)</text>
<text transform="translate(720,1065) rotate(-90)" style="font-size:12px">Windgeschwindigkeit</text>
</g>

<g class="dl">
<g transform="translate(0,229)"><text x="65.9">1</text><text x="86.8">2</text><text x="107.7">3</text><text x="128.6">4</text><text x="149.5">5</text><text x="170.4">6</text><text x="191.3">7</text><text x="212.1">8</text><text x="233">9</text><text x="253.9">10</text><text x="274.8">11</text><text x="295.7">12</text><text x="316.6">13</text><text x="337.4">14</text><text x="358.3">15</text><text x="379.2">16</text><text x="400.1">17</text><text x="421">18</text><text x="441.9">19</text><text x="462.8">20</text><text x="483.6">21</text><text x="504.5">22</text><text x="525.4">23</text><text x="546.3">24</text><text x="567.2">25</text><text x="588.1">26</text><text x="609">27</text><text x="629.8">28</text><text x="650.7">29</text><text x="671.6">30</text><text x="692.5">31</text></g>
<g transform="translate(0,369)"><text x="65.9">1</text><text x="86.8">2</text><text x="107.7">3</text><text x="128.6">4</text><text x="149.5">5</text><text x="170.4">6</text><text x="191.3">7</text><text x="212.1">8</text><text x="233">9</text><text x="253.9">10</text><text x="274.8">11</text><text x="295.7">12</text><text x="316.6">13</text><text x="337.4">14</text><text x="358.3">15</text><text x="379.2">16</text><text x="400.1">17</text><text x="421">18</text><text x="441.9">19</text><text x="462.8">20</text><text x="483.6">21</text><text x="504.5">22</text><text x="525.4">23</text><text x="546.3">24</text><text x="567.2">25</text><text x="588.1">26</text><text x="609">27</text><text x="629.8">28</text><text x="650.7">29</text><text x="671.6">30</text><text x="692.5">31</text></g>
<g transform="translate(0,509)"><text x="65.9">1</text><text x="86.8">2</text><text x="107.7">3</text><text x="128.6">4</text><text x="149.5">5</text><text x="170.4">6</text><text x="191.3">7</text><text x="212.1">8</text><text x="233">9</text><text x="253.9">10</text><text x="274.8">11</text><text x="295.7">12</text><text x="316.6">13</text><text x="337.4">14</text><text x="358.3">15</text><text x="379.2">16</text><text x="400.1">17</text><text x="421">18</text><text x="441.9">19</text><text x="462.8">20</text><text x="483.6">21</text><text x="504.5">22</text><text x="525.4">23</text><text x="546.3">24</text><text x="567.2">25</text><text x="588.1">26</text><text x="609">27</text><text x="629.8">28</text><text x="650.7">29</text><text x="671.6">30</text><text x="692.5">31</text></g>
<g transform="translate(0,639)"><text x="65.9">1</text><text x="86.8">2</text><text x="107.7">3</text><text x="128.6">4</text><text x="149.5">5</text><text x="170.4">6</text><text x="191.3">7</text><text x="212.1">8</text><text x="233">9</text><text x="253.9">10</text><text x="274.8">11</text><text x="295.7">12</text><text x="316.6">13</text><text x="337.4">14</text><text x="358.3">15</text><text x="379.2">16</text><text x="400.1">17</text><text x="421">18</text><text x="441.9">19</text><text x="462.8">20</text><text x="483.6">21</text><text x="504.5">22</text><text x="525.4">23</text><text x="546.3">24</text><text x="567.2">25</text><text x="588.1">26</text><text x="609">27</text><text x="629.8">28</text><text x="650.7">29</text><text x="671.6">30</text><text x="692.5">31</text></g>
<g transform="translate(0,739)"><text x="65.9">1</text><text x="86.8">2</text><text x="107.7">3</text><text x="128.6">4</text><text x="149.5">5</text><text x="170.4">6</text><text x="191.3">7</text><text x="212.1">8</text><text x="233">9</text><text x="253.9">10</text><text x="274.8">11</text><text x="295.7">12</text><text x="316.6">13</text><text x="337.4">14</text><text x="358.3">15</text><text x="379.2">16</text><text x="400.1">17</text><text x="421">18</text><text x="441.9">19</text><text x="462.8">20</text><text x="483.6">21</text><text x="504.5">22</text><text x="525.4">23</text><text x="546.3">24</text><text x="567.2">25</text><text x="588.1">26</text><text x="609">27</text><text x="629.8">28</text><text x="650.7">29</text><text x="671.6">30</text><text x="692.5">31</text></g>
<g transform="translate(0,839)"><text x="65.9">1</text><text x="86.8">2</text><text x="107.7">3</text><text x="128.6">4</text><text x="149.5">5</text><text x="170.4">6</text><text x="191.3">7</text><text x="212.1">8</text><text x="233">9</text><text x="253.9">10</text><text x="274.8">11</text><text x="295.7">12</text><text x="316.6">13</text><text x="337.4">14</text><text x="358.3">15</text><text x="379.2">16</text><text x="400.1">17</text><text x="421">18</text><text x="441.9">19</text><text x="462.8">20</text><text x="483.6">21</text><text x="504.5">22</text><text x="525.4">23</text><text x="546.3">24</text><text x="567.2">25</text><text x="588.1">26</text><text x="609">27</text><text x="629.8">28</text><text x="650.7">29</text><text x="671.6">30</text><text x="692.5">31</text></g>
<g transform="translate(0,979)"><text x="65.9">1</text><text x="86.8">2</text><text x="107.7">3</text><text x="128.6">4</text><text x="149.5">5</text><text x="170.4">6</text><text x="191.3">7</text><text x="212.1">8</text><text x="233">9</text><text x="253.9">10</text><text x="274.8">11</text><text x="295.7">12</text><text x="316.6">13</text><text x="337.4">14</text><text x="358.3">15</text><text x="379.2">16</text><text x="400.1">17</text><text x="421">18</text><text x="441.9">19</text><text x="462.8">20</text><text x="483.6">21</text><text x="504.5">22</text><text x="525.4">23</text><text x="546.3">24</text><text x="567.2">25</text><text x="588.1">26</text><text x="609">27</text><text x="629.8">28</text><text x="650.7">29</text><text x="671.6">30</text><text x="692.5">31</text></g>
<g transform="translate(0,1159)"><text x="65.9">1</text><text x="86.8">2</text><text x="107.7">3</text><text x="128.6">4</text><text x="149.5">5</text><text x="170.4">6</text><text x="191.3">7</text><text x="212.1">8</text><text x="233">9</text><text x="253.9">10</text><text x="274.8">11</text><text x="295.7">12</text><text x="316.6">13</text><text x="337.4">14</text><text x="358.3">15</text><text x="379.2">16</text><text x="400.1">17</text><text x="421">18</text><text x="441.9">19</text><text x="462.8">20</text><text x="483.6">21</text><text x="504.5">22</text><text x="525.4">23</text><text x="546.3">24</text><text x="567.2">25</text><text x="588.1">26</text><text x="609">27</text><text x="629.8">28</text><text x="650.7">29</text><text x="671.6">30</text><text x="692.5">31</text></g>
</g>

<text x="364" y="1171" text-anchor="middle" style="font-size:11px;fill:#888">Datenbasis: Deutscher Wetterdienst, dwd.de | Meteogramm erstellt von mtwetter.de | 2025-10-19T03:26:51Z</text>
</svg>
</body></html>
